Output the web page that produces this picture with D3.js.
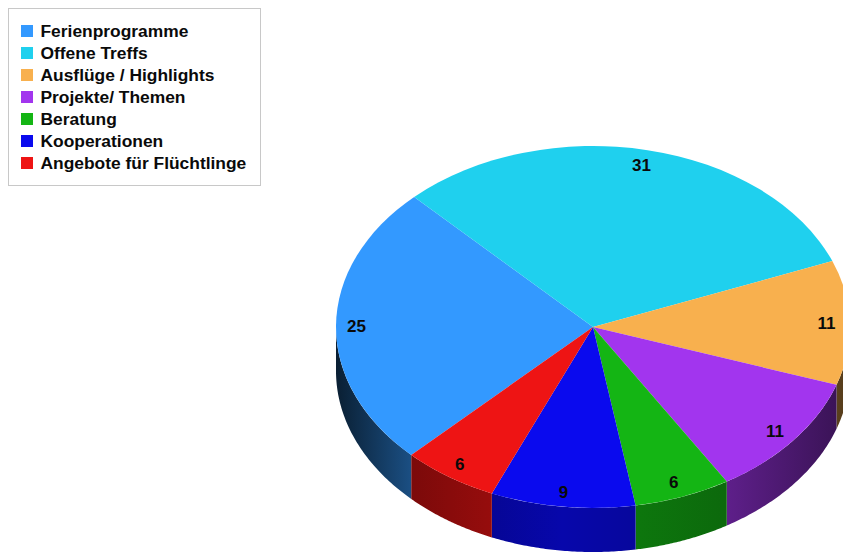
<!DOCTYPE html>
<html>
<head>
<meta charset="utf-8">
<style>
  html, body { margin: 0; padding: 0; background: #fff; }
  svg { display: block; }
  text { font-family: "Liberation Sans", Arial, sans-serif; font-weight: bold; fill: #0a0a0a; }
</style>
<script src="https://cdn.jsdelivr.net/npm/d3@7/dist/d3.min.js"></script>
</head>
<body>
<svg id="chart" width="843" height="552"></svg>
<script>
const categories = ["Ferienprogramme", "Offene Treffs", "Ausflüge / Highlights", "Projekte/ Themen", "Beratung", "Kooperationen", "Angebote für Flüchtlinge"];
const values = [25, 31, 11, 11, 6, 9, 6];
const colors = ["#3399ff", "#1fd0ee", "#f8b04e", "#a235ee", "#14b514", "#0a0aee", "#ee1414"];

// Light falloff along the rim: horizontal position (0..1 across the pie) to brightness.
const rimOffsets = [0, 0.15, 0.29, 0.44, 0.58, 0.76, 0.98, 1];
const rimBrightness = [0.2, 0.52, 0.62, 0.72, 0.66, 0.58, 0.36, 0.34];

const svg = d3.select("#chart");
const defs = svg.append("defs");

const cx = 593, cy = 327, rx = 257, ry = 181, depth = 44;
const startAngle = -135 * Math.PI / 180;

const pie = d3.pie().sort(null).startAngle(startAngle).endAngle(startAngle + 2 * Math.PI);
const arcs = pie(values).map((d, i) => ({ ...d, index: i }));

const xScale = d3.scaleLinear().domain([-1, 1]).range([cx - rx, cx + rx]);
const yScale = d3.scaleLinear().domain([-1, 1]).range([cy - ry, cy + ry]);

// Point on the ellipse; angle runs clockwise from twelve o'clock.
const rimX = a => xScale(Math.sin(a));
const rimY = a => yScale(-Math.cos(a));

// Rim wall of a slice: only the front half of the ellipse is visible.
function wallPath(d) {
  const twoPi = 2 * Math.PI;
  let a0 = d.startAngle, a1 = d.endAngle;
  while (a0 < 0) { a0 += twoPi; a1 += twoPi; }
  const from = Math.max(a0, Math.PI / 2);
  const to = Math.min(a1, 3 * Math.PI / 2);
  if (to <= from) return null;
  const angles = d3.range(0, 61).map(k => from + (to - from) * k / 60);
  const top = angles.map(a => [rimX(a), rimY(a)]);
  const bottom = angles.slice().reverse().map(a => [rimX(a), rimY(a) + depth]);
  return d3.line()(top.concat(bottom)) + "Z";
}

const walls = svg.append("g").attr("class", "walls");
arcs.forEach(d => {
  const path = wallPath(d);
  if (!path) return;
  const id = "rim-" + d.index;
  const base = d3.rgb(colors[d.index]);
  defs.append("linearGradient")
    .attr("id", id)
    .attr("gradientUnits", "userSpaceOnUse")
    .attr("x1", cx - rx).attr("x2", cx + rx)
    .attr("y1", 0).attr("y2", 0)
    .selectAll("stop")
    .data(rimOffsets)
    .join("stop")
    .attr("offset", o => o)
    .attr("stop-color", (o, k) => d3.rgb(base.r * rimBrightness[k], base.g * rimBrightness[k], base.b * rimBrightness[k]).formatHex());
  walls.append("path").attr("d", path).attr("fill", `url(#${id})`);
});

// Top face: a circular pie squashed into the ellipse.
const arcGen = d3.arc().innerRadius(0).outerRadius(rx);
svg.append("g")
  .attr("transform", `translate(${cx},${cy}) scale(1,${ry / rx})`)
  .selectAll("path")
  .data(arcs)
  .join("path")
  .attr("d", arcGen)
  .attr("fill", d => colors[d.index]);

// Value labels sit just inside the rim at each slice's mid angle.
const labelRx = 235, labelRy = 166;
svg.append("g")
  .selectAll("text")
  .data(arcs)
  .join("text")
  .attr("x", d => cx - 1.5 + labelRx * Math.sin((d.startAngle + d.endAngle) / 2))
  .attr("y", d => cy - labelRy * Math.cos((d.startAngle + d.endAngle) / 2))
  .attr("dy", "0.35em")
  .attr("text-anchor", "middle")
  .attr("font-size", 17)
  .text(d => d.value);

// Legend box
const legend = svg.append("g").attr("class", "legend");
legend.append("rect")
  .attr("x", 8.5).attr("y", 8.5)
  .attr("width", 252).attr("height", 177)
  .attr("fill", "#fff").attr("stroke", "#c8c8c8");

const rowY = d3.scalePoint().domain(categories).range([31, 163]);
const rows = legend.selectAll("g.row").data(categories).join("g")
  .attr("class", "row")
  .attr("transform", d => `translate(0,${rowY(d)})`);
rows.append("rect")
  .attr("x", 21).attr("y", -6)
  .attr("width", 12).attr("height", 12)
  .attr("fill", (d, i) => colors[i]);
rows.append("text")
  .attr("x", 40.5).attr("dy", "0.35em")
  .attr("font-size", 17.4)
  .text(d => d);
</script>
</body>
</html>
